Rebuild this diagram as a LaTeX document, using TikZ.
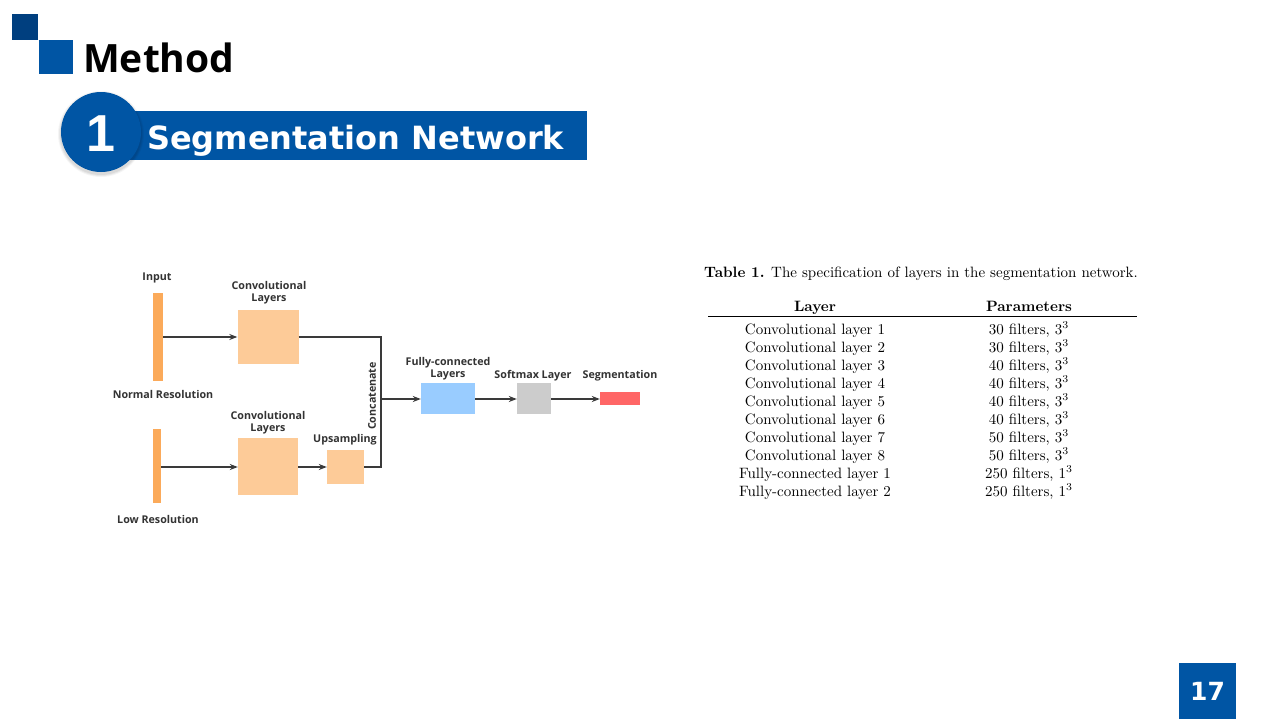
\documentclass[tikz,border=0pt]{standalone}
\usepackage{fontspec}
\usetikzlibrary{arrows.meta}
\newfontfamily\headfont{Open Sans}
\newfontfamily\bannerfont{DejaVu Sans}
\newfontfamily\numfont{Liberation Sans}
\newfontfamily\diagfont{Open Sans}
\definecolor{navy}{HTML}{003F7F}
\definecolor{brandblue}{HTML}{0055A4}
\definecolor{barorange}{HTML}{FBAA5A}
\definecolor{peach}{HTML}{FDCB98}
\definecolor{fcblue}{HTML}{99CCFF}
\definecolor{smgray}{HTML}{CCCCCC}
\definecolor{segred}{HTML}{FF6666}
\definecolor{labelgray}{HTML}{333333}
\definecolor{linegray}{HTML}{3A3A3A}
\newcommand{\tabtext}[1]{\scalebox{1.5}{\fontsize{10}{12}\selectfont #1}}
\tikzset{
  lbl/.style={font=\diagfont\bfseries\fontsize{10.7}{12}\selectfont,text=labelgray,align=center,inner sep=0pt},
  flow/.style={draw=linegray,line width=1.1pt,-{Stealth[length=8pt,width=6pt]}},
  wire/.style={draw=linegray,line width=1.1pt},
  cell/.style={inner sep=0pt,anchor=base},
}
\begin{document}
\begin{tikzpicture}[x=1pt,y=-1pt]
\useasboundingbox (0,0) rectangle (1280,720);
\fill[white] (0,0) rectangle (1280,720);

% title block
\fill[navy] (12,14) rectangle (38,40);
\fill[brandblue] (39,40) rectangle (73,74);
\node[anchor=base west,inner sep=0pt,font=\headfont\bfseries\fontsize{39}{40}\selectfont] (title) at (83,72) {Method};

% section banner
\fill[brandblue] (120,111) rectangle (587,160);
\foreach \r/\o in {43/0.04,42/0.05,41/0.06}{\fill[black,opacity=\o] (101,134) circle (\r);}
\fill[brandblue] (101,132) circle (40);
\node[anchor=base,inner sep=0pt,text=white,font=\numfont\bfseries\fontsize{52}{54}\selectfont] (num) at (101,151) {1};
\node[anchor=base west,inner sep=0pt,text=white,font=\bannerfont\bfseries\fontsize{32}{34}\selectfont] (sec) at (147,149) {Segmentation Network};

% page number
\fill[brandblue] (1179,663) rectangle (1236,719);
\node[anchor=base,inner sep=0pt,text=white,font=\bannerfont\bfseries\fontsize{25}{26}\selectfont] (page) at (1207.5,700) {17};

% network diagram
\fill[barorange] (153,293) rectangle (163,381);
\coordinate (inN) at (163,337);
\fill[barorange] (153,429) rectangle (161,503);
\coordinate (inL) at (161,467);
\node[lbl] (linput) at (157,278) {Input};
\node[lbl] (lnorm) at (163,394) {Normal Resolution};
\node[lbl] (llow) at (158,519) {Low Resolution};

\node[fill=peach,minimum width=61pt,minimum height=54pt,inner sep=0pt] (conv1) at (268,337) {};
\node[lbl] (lconv1) at (269,293) {Convolutional\\Layers};
\node[fill=peach,minimum width=60pt,minimum height=57pt,inner sep=0pt] (conv2) at (268,466.5) {};
\node[lbl] (lconv2) at (268,423) {Convolutional\\Layers};
\node[fill=peach,minimum width=37pt,minimum height=34pt,inner sep=0pt] (ups) at (345.5,467) {};
\node[lbl] (lups) at (345,440) {Upsampling};

\node[fill=fcblue,minimum width=54pt,minimum height=31pt,inner sep=0pt] (fc) at (448,398.5) {};
\node[lbl] (lfc) at (448,369) {Fully-connected\\Layers};
\node[fill=smgray,minimum width=34pt,minimum height=31pt,inner sep=0pt] (sm) at (534,398.5) {};
\node[lbl] (lsm) at (533,376) {Softmax Layer};
\node[fill=segred,minimum width=40pt,minimum height=13pt,inner sep=0pt] (seg) at (620,398.5) {};
\node[lbl] (lseg) at (620,376) {Segmentation};

\coordinate (cat) at (381,399);
\node[lbl,rotate=90] (lcat) at (372,396) {Concatenate};

\draw[flow] (inN) -- (conv1.west);
\draw[flow] (inL) -- (conv2.west |- inL);
\draw[flow] (conv2.east |- ups) -- (ups.west);
\draw[wire] (conv1.east) -| (cat);
\draw[wire] (ups.east) -| (cat);
\draw[flow] (cat) -- (fc.west |- cat);
\draw[flow] (fc.east |- cat) -- (sm.west |- cat);
\draw[flow] (sm.east |- cat) -- (seg.west |- cat);

% specification table
\node[anchor=base west,inner sep=0pt] (cap) at (704,277) {\tabtext{\textbf{Table 1.} The specification of layers in the segmentation network.}};
\node[cell] (hl) at (815,311) {\tabtext{\textbf{Layer}}};
\node[cell] (hp) at (1029,311) {\tabtext{\textbf{Parameters}}};
\draw[line width=1.3pt] (708,316.5) -- (1137,316.5);
\foreach \lay/\prm/\ex [count=\i] in {
  Convolutional layer 1/30 filters/3,
  Convolutional layer 2/30 filters/3,
  Convolutional layer 3/40 filters/3,
  Convolutional layer 4/40 filters/3,
  Convolutional layer 5/40 filters/3,
  Convolutional layer 6/40 filters/3,
  Convolutional layer 7/50 filters/3,
  Convolutional layer 8/50 filters/3,
  Fully-connected layer 1/250 filters/1,
  Fully-connected layer 2/250 filters/1}{
  \node[cell] (row\i) at (815,316+18*\i) {\tabtext{\lay}};
  \node[cell] (par\i) at (1029,316+18*\i) {\tabtext{\prm, $\ex^3$}};
}
\end{tikzpicture}
\end{document}
